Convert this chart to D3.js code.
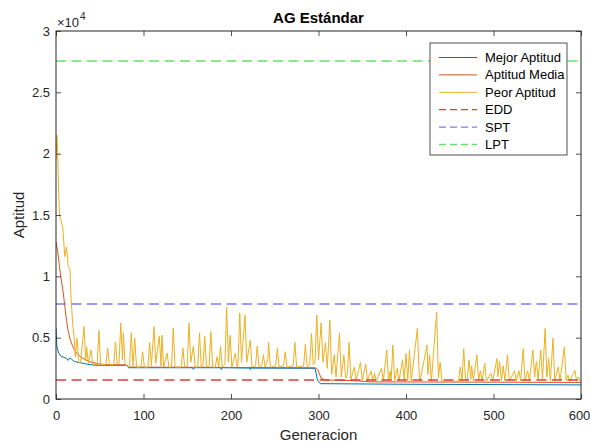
<!DOCTYPE html>
<html>
<head>
<meta charset="utf-8">
<script src="https://cdn.jsdelivr.net/npm/d3@7"></script>
<style>
  body { margin: 0; background: #fff; }
  text { font-family: "Liberation Sans", Arial, Helvetica, sans-serif; }
</style>
</head>
<body>
<svg id="chart"></svg>
<script>
// data: [generation, fitness]
const best = [[0,5800],[1,4300],[3,3750],[6,3450],[9,3400],[12,3300],[14,3150],[16,3350],[18,3250],[20,3100],[24,3000],[28,2950],[35,2850],[45,2750],[81,2750],[83,2550],[156,2550],[157,2420],[158,2550],[188,2550],[189,2400],[190,2550],[221,2520],[222,2400],[223,2520],[296,2500],[299,1500],[302,1250],[400,1200],[600,1150]];

const mean = [[0,12800],[2,12000],[4,10800],[6,9700],[8,8800],[10,7600],[12,6400],[14,5500],[16,4900],[19,4300],[22,3900],[26,3550],[31,3300],[38,3050],[46,2900],[55,2800],[80,2780],[84,2600],[296,2550],[299,2400],[303,1700],[308,1550],[340,1500],[360,1400],[600,1350]];

const worst = [[0,19500],[1,21500],[2,20000],[3,17000],[4,15000],[6,14500],[8,13800],[10,11600],[12,12400],[14,10800],[16,10600],[17,8500],[19,6200],[21,4800],[22,3400],[24,4950],[26,3000],[28,2900],[32,5900],[34,3100],[35,4250],[37,2900],[40,4000],[42,2850],[47,2800],[49,5600],[51,2800],[57,2800],[59,4150],[61,2800],[66,2800],[68,4650],[70,2800],[72,2900],[74,6200],[76,3200],[77,5400],[79,2800],[84,2600],[86,5400],[88,2700],[90,4950],[92,2600],[97,2600],[99,3850],[101,2600],[105,2600],[107,4600],[109,2700],[112,5900],[114,2900],[118,5150],[120,2700],[121,5200],[123,2600],[127,3750],[129,2600],[132,2600],[134,5800],[136,2600],[143,2600],[145,4150],[147,2600],[150,2700],[152,6200],[154,3000],[157,4300],[159,2600],[162,2600],[164,5400],[166,2600],[168,2700],[170,5100],[172,2600],[175,2700],[177,5500],[179,2600],[182,2600],[184,3450],[186,2600],[188,4300],[190,2600],[193,2800],[195,7500],[197,3000],[199,5200],[201,2600],[205,3750],[207,2600],[208,2800],[210,7000],[212,3000],[216,6850],[218,3000],[222,4800],[224,2600],[228,2700],[230,4300],[232,2600],[235,2700],[237,3600],[239,2600],[242,3200],[243,4600],[245,2600],[251,2700],[253,4150],[255,2600],[260,2700],[262,3850],[264,2600],[271,2700],[273,4600],[275,2600],[283,2700],[285,4450],[287,2600],[290,2800],[292,5350],[294,2800],[296,3000],[298,6850],[300,3200],[303,6200],[305,3000],[308,4600],[310,2500],[313,6450],[315,2000],[318,3600],[320,1800],[324,5400],[326,1800],[329,3600],[331,1700],[333,2000],[335,4600],[337,1600],[341,2600],[343,1500],[348,3000],[350,1500],[354,2850],[356,1500],[360,2300],[362,1500],[364,2100],[366,1450],[372,2500],[374,1450],[378,4000],[380,1500],[382,2300],[383,1500],[385,4400],[387,1500],[390,2500],[392,1450],[396,3200],[398,1500],[400,3700],[402,1500],[404,4000],[406,1450],[413,5750],[415,2100],[416,1450],[424,4400],[425,2000],[427,3600],[429,1450],[435,7100],[437,1700],[439,3000],[441,1450],[460,1450],[462,2600],[464,1500],[466,4100],[468,1600],[470,1500],[472,3200],[474,1600],[475,2700],[477,1500],[481,3600],[483,1500],[485,2300],[487,1450],[490,2900],[492,1450],[497,2100],[499,1450],[504,3300],[505,1800],[507,3050],[509,1500],[511,2700],[513,1500],[516,3600],[518,1450],[524,2300],[526,1450],[529,2300],[531,1500],[534,4100],[536,1450],[539,2300],[541,1450],[545,4000],[547,1800],[549,3050],[551,1600],[554,4000],[556,1600],[559,5750],[561,1800],[563,3300],[565,1500],[568,4950],[570,1500],[574,2600],[576,1500],[581,4250],[583,1500],[585,1950],[587,1450],[593,2350],[595,1450],[597,1800],[599,1450],[600,1450]];

// reference heuristics (constant lines)
const refNames = ["EDD", "SPT", "LPT"];
const refValues = [1550, 7750, 27550];

const seriesNames = ["Mejor Aptitud", "Aptitud Media", "Peor Aptitud"];
const xTicks = [0, 100, 200, 300, 400, 500, 600];
const yTicks = [0, 5000, 10000, 15000, 20000, 25000, 30000];
const yTickLabels = ["0", "0.5", "1", "1.5", "2", "2.5", "3"];

const width = 590, height = 442;
const margin = { top: 31, right: 9, bottom: 43, left: 56 };
const axisColor = "#262626";

const svg = d3.select("#chart")
    .attr("width", width)
    .attr("height", height);

const x = d3.scaleLinear().domain([0, 600]).range([margin.left, width - margin.right]);
const y = d3.scaleLinear().domain([0, 30000]).range([height - margin.bottom, margin.top]);

svg.append("clipPath").attr("id", "plot-clip")
    .append("rect")
    .attr("x", x(0)).attr("y", y(30000))
    .attr("width", x(600) - x(0)).attr("height", y(0) - y(30000));

const plot = svg.append("g").attr("clip-path", "url(#plot-clip)");

const line = d3.line().x(d => x(d[0])).y(d => y(d[1]));

const seriesColors = ["#0072BD", "#D95319", "#EDB120"];
[best, mean, worst].forEach((data, i) => {
    plot.append("path")
        .datum(data)
        .attr("d", line)
        .attr("fill", "none")
        .attr("stroke", seriesColors[i])
        .attr("stroke-width", 1)
        .attr("stroke-linejoin", "round");
});

const refColors = ["#d93f3f", "#7b7bf5", "#6ade6a"];
refValues.forEach((v, i) => {
    plot.append("path")
        .datum([[0, v], [600, v]])
        .attr("d", line)
        .attr("fill", "none")
        .attr("stroke", refColors[i])
        .attr("stroke-width", 1.5)
        .attr("stroke-dasharray", "10,5.5");
});

// axes, MATLAB style: ticks inside, box on
function styleAxis(g) {
    g.select(".domain").remove();
    g.selectAll(".tick line").attr("stroke", axisColor).attr("stroke-width", 0.8);
    g.selectAll(".tick text").attr("fill", axisColor).style("font-size", "13px");
}

const xAxis = svg.append("g")
    .attr("transform", `translate(0,${y(0)})`)
    .call(d3.axisBottom(x).tickValues(xTicks).tickSize(-5).tickPadding(12))
    .call(styleAxis);
// keep the last label inside the window
xAxis.selectAll(".tick text").filter(d => d === 600).attr("dx", -2);

svg.append("g")
    .attr("transform", `translate(0,${y(30000)})`)
    .call(d3.axisTop(x).tickValues(xTicks).tickSize(-5).tickFormat(""))
    .call(styleAxis);

svg.append("g")
    .attr("transform", `translate(${x(0)},0)`)
    .call(d3.axisLeft(y).tickValues(yTicks).tickSize(-5).tickPadding(6)
        .tickFormat((d, i) => yTickLabels[i]))
    .call(styleAxis);

svg.append("g")
    .attr("transform", `translate(${x(600)},0)`)
    .call(d3.axisRight(y).tickValues(yTicks).tickSize(-5).tickFormat(""))
    .call(styleAxis);

svg.append("rect")
    .attr("x", x(0)).attr("y", y(30000))
    .attr("width", x(600) - x(0)).attr("height", y(0) - y(30000))
    .attr("fill", "none")
    .attr("stroke", axisColor)
    .attr("stroke-width", 1);

// exponent label
const expo = svg.append("text")
    .attr("x", x(0) + 1).attr("y", y(30000) - 4)
    .attr("fill", axisColor)
    .style("font-size", "13px");
expo.append("tspan").text("\u00d710");
expo.append("tspan").attr("dy", -7).attr("dx", 1).style("font-size", "10px").text("4");

// title and axis labels
svg.append("text")
    .attr("x", (x(0) + x(600)) / 2).attr("y", 23)
    .attr("text-anchor", "middle")
    .style("font-size", "15px").style("font-weight", "bold")
    .attr("fill", "#000")
    .text("AG Estándar");

svg.append("text")
    .attr("x", (x(0) + x(600)) / 2).attr("y", 440)
    .attr("text-anchor", "middle")
    .style("font-size", "15px")
    .attr("fill", axisColor)
    .text("Generacion");

svg.append("text")
    .attr("transform", `translate(24,${(y(0) + y(30000)) / 2}) rotate(-90)`)
    .attr("text-anchor", "middle")
    .style("font-size", "15px")
    .attr("fill", axisColor)
    .text("Aptitud");

// legend
const legend = svg.append("g").attr("transform", "translate(430,43)");
legend.append("rect")
    .attr("width", 137).attr("height", 112)
    .attr("fill", "#fff")
    .attr("stroke", axisColor)
    .attr("stroke-width", 0.8);

const legendNames = seriesNames.concat(refNames);
const legendColors = seriesColors.concat(refColors);
legendNames.forEach((name, i) => {
    const ly = 14.5 + i * 17.4;
    legend.append("line")
        .attr("x1", 9).attr("x2", 47)
        .attr("y1", ly).attr("y2", ly)
        .attr("stroke", legendColors[i])
        .attr("stroke-width", i < 3 ? 1 : 1.3)
        .attr("stroke-dasharray", i < 3 ? null : "7,4");
    legend.append("text")
        .attr("x", 55).attr("y", ly + 4.5)
        .style("font-size", "13px")
        .attr("fill", "#000")
        .text(name);
});
</script>
</body>
</html>
